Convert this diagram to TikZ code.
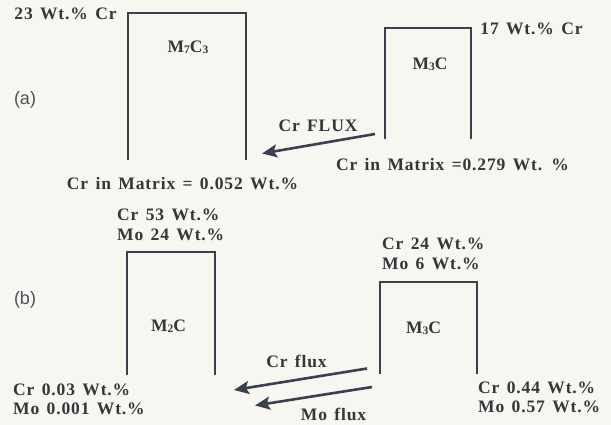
\documentclass[tikz,border=0pt]{standalone}
\usepackage{fontspec}
\setmainfont{Liberation Serif}[LetterSpace=5,WordSpace=1.4]
\newfontfamily\labfont{Liberation Sans}
\usetikzlibrary{arrows.meta}
\definecolor{bgc}{HTML}{F7F6F0}
\definecolor{linec}{HTML}{3A404E}
\definecolor{txtc}{HTML}{34363C}
\definecolor{labc}{HTML}{4C505A}
\newcommand{\sbs}[1]{\raisebox{-0.8pt}{\fontsize{11.5}{11.5}\selectfont #1}}
\tikzset{
  txt/.style={inner sep=0pt, text=txtc, font=\fontsize{17.5}{17.5}\selectfont\bfseries},
  plab/.style={inner sep=0pt, text=labc, font=\labfont\fontsize{18}{18}\selectfont},
  phase/.style={draw=linec, line width=2.2pt, line cap=butt, line join=miter},
  flux/.style={draw=linec, line width=2.6pt, -{Stealth[length=15pt,width=13pt,inset=3pt]}},
}
\begin{document}
\begin{tikzpicture}[x=1pt,y=-1pt]
\fill[bgc] (0,0) rectangle (611,425);
\useasboundingbox (0,0) rectangle (611,425);

% ---- panel (a) ----
\node[plab] (la) at (25,100) {(a)};
\draw[phase] (128,160) coordinate (m7bl) -- (128,13) -- (246,13) -- (246,160) coordinate (m7br);
\node[txt] (m7) at (188,47) {M\sbs{7}C\sbs{3}};
\node[txt] (m7top) at (65.5,14) {23 Wt.\% Cr};
\node[txt] (m7mat) at (182.5,184) {Cr in Matrix = 0.052 Wt.\%};

\draw[phase] (385,139) coordinate (m3abl) -- (385,28) -- (471,28) -- (471,139) coordinate (m3abr);
\node[txt] (m3a) at (430,64.5) {M\sbs{3}C};
\node[txt] (m3atop) at (531.5,29) {17 Wt.\% Cr};
\node[txt] (m3amat) at (452.5,165) {Cr in Matrix =0.279 Wt. \%};
\node[txt] (fluxa) at (318,126) {Cr FLUX};
\coordinate (fa1) at (375,134);
\coordinate (fa2) at (262,153.5);
\draw[flux] (fa1) -- (fa2);

% ---- panel (b) ----
\node[plab] (lb) at (25,300) {(b)};
\draw[phase] (127,375) coordinate (m2bl) -- (127,252) -- (215,252) -- (215,375) coordinate (m2br);
\node[txt] (m2) at (168.5,326) {M\sbs{2}C};
\node[txt, anchor=west] (m2cr) at (117,215) {Cr 53 Wt.\%};
\node[txt, anchor=west] (m2mo) at (117,235) {Mo 24 Wt.\%};
\node[txt, anchor=west] (mcr) at (13,390) {Cr 0.03 Wt.\%};
\node[txt, anchor=west] (mmo) at (13,408.5) {Mo 0.001 Wt.\%};

\draw[phase] (380,374) coordinate (m3bbl) -- (380,282) -- (477,282) -- (477,374) coordinate (m3bbr);
\node[txt] (m3b) at (423.5,328.5) {M\sbs{3}C};
\node[txt, anchor=west] (m3cr) at (382,244) {Cr 24 Wt.\%};
\node[txt, anchor=west] (m3mo) at (382,264) {Mo 6 Wt.\%};
\node[txt, anchor=west] (icr) at (478,387.5) {Cr 0.44 Wt.\%};
\node[txt, anchor=west] (imo) at (478,406.5) {Mo 0.57 Wt.\%};
\node[txt] (fluxcr) at (296.5,361) {Cr flux};
\node[txt] (fluxmo) at (333.5,414.5) {Mo flux};
\coordinate (fb1) at (367,368.5);
\coordinate (fb2) at (234,390);
\coordinate (fc1) at (372,387);
\coordinate (fc2) at (255,405.5);
\draw[flux] (fb1) -- (fb2);
\draw[flux] (fc1) -- (fc2);
\end{tikzpicture}
\end{document}
